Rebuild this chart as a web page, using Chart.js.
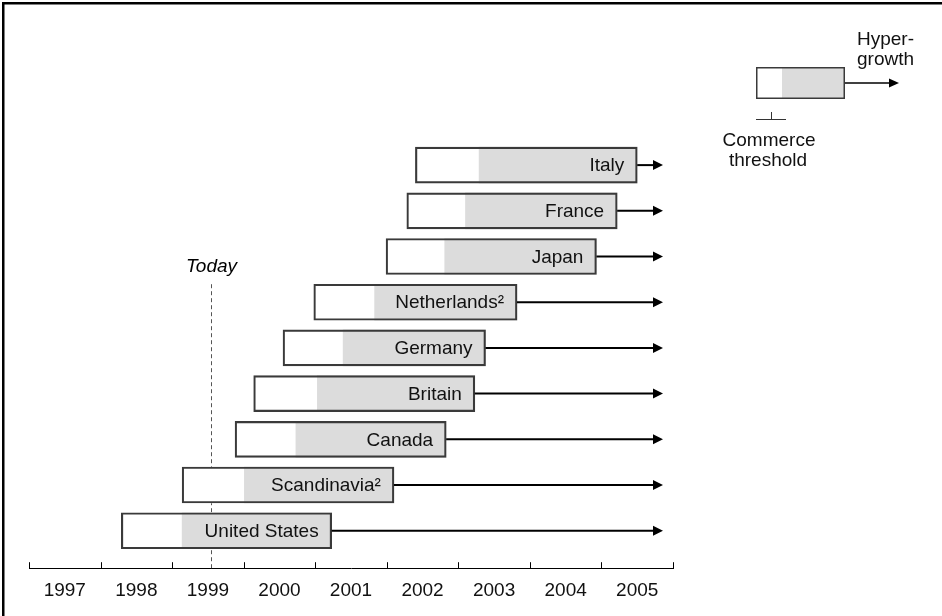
<!DOCTYPE html>
<html>
<head>
<meta charset="utf-8">
<script src="https://cdn.jsdelivr.net/npm/chart.js@4"></script>
<style>
  html, body { margin: 0; padding: 0; background: #fff; }
  #wrap { width: 942px; height: 616px; position: relative; }
</style>
</head>
<body>
<div id="wrap"><canvas id="c" width="942" height="616"></canvas></div>
<script>
// Countries, top row first
const countries = ['Italy', 'France', 'Japan', 'Netherlands²', 'Germany', 'Britain', 'Canada', 'Scandinavia²', 'United States'];
// Year of market entry (left edge of each bar)
const entryYear = [2001.90, 2001.78, 2001.49, 2000.48, 2000.05, 1999.64, 1999.38, 1998.64, 1997.79];
// Year the commerce threshold is crossed (white -> grey)
const thresholdYear = [2002.79, 2002.60, 2002.31, 2001.33, 2000.89, 2000.53, 2000.23, 1999.51, 1998.64];
// Year hyper-growth begins (right edge of each bar)
const hypergrowthYear = [2005.00, 2004.72, 2004.43, 2003.32, 2002.88, 2002.73, 2002.33, 2001.60, 2000.73];
// Where the hyper-growth arrows end
const arrowEndYear = 2005.36;
// "Today" marker
const todayYear = 1999.04;
// Axis years
const yearTicks = [1997, 1998, 1999, 2000, 2001, 2002, 2003, 2004, 2005];
const yearLabels = ['1997', '1998', '1999', '2000', '2001', '2002', '2003', '2004', '2005'];

const FONT = "'Liberation Sans', Arial, Helvetica, sans-serif";
const GREY = '#dcdcdc';
const EDGE = '#3a3a3a';
const BAR_THICK = 36;
const FS = 19;

const rowOf = i => countries.length - 1 - i;

const whiteSeg = countries.map((c, i) => ({ y: rowOf(i), x: [entryYear[i], thresholdYear[i]] }));
const greySeg = countries.map((c, i) => ({ y: rowOf(i), x: [thresholdYear[i], hypergrowthYear[i]] }));
const outline = countries.map((c, i) => ({ y: rowOf(i), x: [entryYear[i], hypergrowthYear[i]] }));

function arrow(ctx, x0, x1, y, width, head, half) {
  ctx.save();
  ctx.strokeStyle = '#000';
  ctx.fillStyle = '#000';
  ctx.lineWidth = width;
  ctx.beginPath();
  ctx.moveTo(x0, y);
  ctx.lineTo(x1 - head + 1, y);
  ctx.stroke();
  ctx.beginPath();
  ctx.moveTo(x1, y);
  ctx.lineTo(x1 - head, y - half);
  ctx.lineTo(x1 - head, y + half);
  ctx.closePath();
  ctx.fill();
  ctx.restore();
}

const decorations = {
  id: 'decorations',
  beforeDatasetsDraw(chart) {
    const { ctx, scales: { x, y } } = chart;
    // "Today" dashed marker, from the axis up to the Netherlands row
    const tx = Math.round(x.getPixelForValue(todayYear)) + 0.5;
    const top = y.getPixelForValue(rowOf(3)) - BAR_THICK / 2;
    ctx.save();
    ctx.strokeStyle = '#555';
    ctx.lineWidth = 1;
    ctx.setLineDash([4, 3]);
    ctx.beginPath();
    ctx.moveTo(tx, top);
    ctx.lineTo(tx, chart.chartArea.bottom);
    ctx.stroke();
    ctx.setLineDash([]);
    ctx.fillStyle = '#000';
    ctx.font = `italic ${FS}px ${FONT}`;
    ctx.textAlign = 'center';
    ctx.textBaseline = 'middle';
    ctx.fillText('Today', tx, top - 17);
    ctx.restore();
  },
  afterDatasetsDraw(chart) {
    const { ctx, scales: { x, y } } = chart;
    ctx.save();
    // hyper-growth arrows and country labels
    countries.forEach((name, i) => {
      const cy = y.getPixelForValue(rowOf(i));
      const xr = x.getPixelForValue(hypergrowthYear[i]);
      arrow(ctx, xr, x.getPixelForValue(arrowEndYear), cy, 2, 10, 5);
      ctx.fillStyle = '#111';
      ctx.font = `${FS}px ${FONT}`;
      ctx.textAlign = 'right';
      ctx.textBaseline = 'middle';
      ctx.fillText(name, xr - 13, cy + 1);
    });
    ctx.restore();
  },
  afterDraw(chart) {
    const { ctx, chartArea, scales: { x } } = chart;
    ctx.save();
    // upward tick marks between the year labels
    ctx.strokeStyle = '#000';
    ctx.lineWidth = 1;
    const b = chartArea.bottom;
    const bounds = [yearTicks[0] - 0.5, ...yearTicks.map(v => v + 0.5)];
    bounds.forEach(v => {
      const px = Math.round(x.getPixelForValue(v)) + 0.5;
      ctx.beginPath();
      ctx.moveTo(px, b - 6);
      ctx.lineTo(px, b);
      ctx.stroke();
    });

    // legend key in the upper right
    const lx = 756, ly = 67, lw = 89, lh = 32, lsplit = 26;
    ctx.fillStyle = '#fff';
    ctx.fillRect(lx, ly, lsplit, lh);
    ctx.fillStyle = GREY;
    ctx.fillRect(lx + lsplit, ly, lw - lsplit, lh);
    ctx.strokeStyle = EDGE;
    ctx.lineWidth = 1.5;
    ctx.strokeRect(lx + 0.75, ly + 0.75, lw - 1.5, lh - 1.5);
    arrow(ctx, lx + lw, 899, ly + lh / 2, 1.5, 10, 4.5);
    ctx.strokeStyle = '#333';
    ctx.lineWidth = 1;
    ctx.beginPath();
    ctx.moveTo(lx, 119.5);
    ctx.lineTo(lx + 30, 119.5);
    ctx.moveTo(771.5, 112);
    ctx.lineTo(771.5, 119.5);
    ctx.stroke();
    ctx.fillStyle = '#111';
    ctx.font = `${FS}px ${FONT}`;
    ctx.textBaseline = 'middle';
    ctx.textAlign = 'left';
    ctx.fillText('Hyper-', 857, 40);
    ctx.fillText('growth', 857, 60);
    ctx.textAlign = 'center';
    ctx.fillText('Commerce', 769, 141);
    ctx.fillText('threshold', 768, 161);

    // frame along the top and left edges
    ctx.fillStyle = '#000';
    ctx.fillRect(2, 2, 940, 2.5);
    ctx.fillRect(2, 2, 2.5, 614);
    ctx.restore();
  }
};

new Chart(document.getElementById('c'), {
  type: 'bar',
  data: {
    datasets: [
      { data: outline, backgroundColor: 'rgba(0,0,0,0)', borderColor: EDGE, borderWidth: 1.5, borderSkipped: false },
      { data: greySeg, backgroundColor: GREY, borderWidth: 0 },
      { data: whiteSeg, backgroundColor: '#fff', borderWidth: 0 }
    ]
  },
  options: {
    indexAxis: 'y',
    responsive: false,
    animation: false,
    events: [],
    layout: { padding: { left: 29, right: 269, top: 28, bottom: 3 } },
    datasets: { bar: { grouped: false, barThickness: BAR_THICK } },
    plugins: { legend: { display: false }, tooltip: { enabled: false } },
    scales: {
      x: {
        type: 'linear',
        offset: false,
        min: 1996.5,
        max: 2005.5,
        afterBuildTicks: s => { s.ticks = yearTicks.map(v => ({ value: v })); },
        ticks: {
          callback: (v, i) => yearLabels[i],
          color: '#111',
          font: { family: FONT, size: FS },
          padding: 11,
          maxRotation: 0,
          autoSkip: false
        },
        grid: { display: false, drawTicks: false },
        border: { display: true, color: '#000', width: 1 }
      },
      y: { type: 'linear', offset: false, min: -0.82, max: 11, display: false }
    }
  },
  plugins: [decorations]
});
</script>
</body>
</html>
